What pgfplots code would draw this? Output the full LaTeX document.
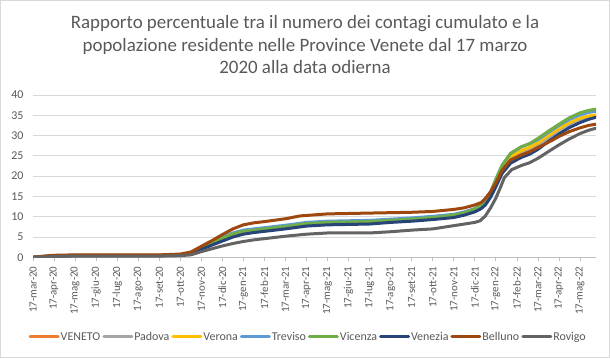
\documentclass[border=0pt]{standalone}
\usepackage{fontspec}
\setmainfont{Carlito}
\usepackage{pgfplots}
\pgfplotsset{compat=1.18}
\definecolor{txtgray}{HTML}{595959}
\definecolor{gridgray}{HTML}{D9D9D9}
\definecolor{framegray}{HTML}{D9D9D9}
\definecolor{axisgray}{HTML}{BFBFBF}
\definecolor{cVeneto}{HTML}{ED7D31}
\definecolor{cPadova}{HTML}{A5A5A5}
\definecolor{cVerona}{HTML}{FFC000}
\definecolor{cTreviso}{HTML}{5B9BD5}
\definecolor{cVicenza}{HTML}{70AD47}
\definecolor{cVenezia}{HTML}{264478}
\definecolor{cBelluno}{HTML}{9E480E}
\definecolor{cRovigo}{HTML}{636363}
\begin{document}
\begin{tikzpicture}[x=1bp,y=1bp]
\draw[framegray, line width=1bp] (0.5,0.5) rectangle (609.5,357.5);
\node[anchor=base, text=txtgray, font=\fontsize{19}{22}\selectfont] at (305,329.5) {Rapporto percentuale tra il numero dei contagi cumulato e la};
\node[anchor=base, text=txtgray, font=\fontsize{19}{22}\selectfont] at (305,306.5) {popolazione residente nelle Province Venete dal 17 marzo};
\node[anchor=base, text=txtgray, font=\fontsize{19}{22}\selectfont] at (305,284.5) {2020 alla data odierna};
\begin{axis}[
  at={(33bp,100.7bp)}, anchor=south west,
  scale only axis, width=563bp, height=162.3bp,
  xmin=0, xmax=26.76, ymin=0, ymax=40,
  ytick={0,5,...,40},
  xtick={0,...,26},
  xticklabels={17-mar-20,17-apr-20,17-mag-20,17-giu-20,17-lug-20,17-ago-20,17-set-20,17-ott-20,17-nov-20,17-dic-20,17-gen-21,17-feb-21,17-mar-21,17-apr-21,17-mag-21,17-giu-21,17-lug-21,17-ago-21,17-set-21,17-ott-21,17-nov-21,17-dic-21,17-gen-22,17-feb-22,17-mar-22,17-apr-22,17-mag-22},
  /pgf/number format/assume math mode=true,
  ymajorgrids, grid style={draw=gridgray, line width=0.75bp},
  axis x line*=bottom, axis y line*=left,
  y axis line style={draw=none},
  x axis line style={draw=axisgray, line width=0.75bp, -},
  ytick style={draw=none},
  xtick style={draw=axisgray, line width=0.75bp},
  xtick align=outside, major tick length=4bp,
  tick label style={font=\fontsize{12}{14}\selectfont, text=txtgray},
  x tick label style={rotate=90, anchor=east, inner ysep=2bp, inner xsep=5bp, font=\fontsize{11}{13}\selectfont},
  y tick label style={xshift=-6bp},
  legend columns=-1,
  legend style={at={(0.488,-0.491)}, anchor=center, draw=none, fill=none,
    font=\fontsize{12}{14}\selectfont, text=txtgray,
    nodes={inner sep=1bp},
    /tikz/every even column/.append style={column sep=1bp}},
  legend image code/.code={\draw[#1] (0bp,0bp) -- (28bp,0bp);},
  every axis plot/.append style={line width=3bp, line join=round, line cap=round},
]
\addplot[cVeneto] coordinates {(0,0) (1,0.35) (2,0.45) (6,0.45) (7,0.55) (7.5,1.0) (8,2.1) (8.5,3.3) (9,4.4) (9.5,5.5) (10,6.1) (10.5,6.4) (11,6.7) (12,7.3) (13,8.0) (14,8.3) (15,8.4) (16,8.5) (17,8.9) (18,9.2) (19,9.6) (20,10.1) (20.5,10.7) (21,11.5) (21.3,12.4) (21.5,13.3) (21.75,15.4) (22,18.2) (22.3,21.4) (22.7,24.2) (23.2,25.9) (23.6,26.7) (24,27.8) (24.5,29.7) (25,31.5) (25.5,33.0) (26,34.1) (26.4,34.6) (26.75,34.9)};
\addlegendentry{VENETO}
\addplot[cPadova] coordinates {(0,0) (1,0.3) (2,0.4) (6,0.4) (7,0.5) (7.5,0.95) (8,2.0) (8.5,3.2) (9,4.3) (9.5,5.4) (10,6.0) (10.5,6.3) (11,6.6) (12,7.2) (13,7.9) (14,8.2) (15,8.3) (16,8.4) (17,8.8) (18,9.1) (19,9.5) (20,10.0) (20.5,10.6) (21,11.4) (21.3,12.3) (21.5,13.2) (21.75,15.3) (22,18.1) (22.3,21.3) (22.7,24.1) (23.2,25.8) (23.6,26.6) (24,27.7) (24.5,29.6) (25,31.4) (25.5,32.9) (26,34.0) (26.4,34.5) (26.75,34.8)};
\addlegendentry{Padova}
\addplot[cVerona] coordinates {(0,0) (1,0.35) (2,0.45) (6,0.45) (7,0.55) (7.5,1.0) (8,2.1) (8.5,3.3) (9,4.5) (9.5,5.6) (10,6.2) (10.5,6.5) (11,6.8) (12,7.4) (13,8.1) (14,8.4) (15,8.5) (16,8.6) (17,9.0) (18,9.3) (19,9.7) (20,10.2) (20.5,10.8) (21,11.6) (21.3,12.5) (21.5,13.5) (21.75,15.6) (22,18.5) (22.3,21.8) (22.7,24.7) (23.2,26.3) (23.6,27.1) (24,28.2) (24.5,30.0) (25,31.7) (25.5,33.2) (26,34.3) (26.4,34.8) (26.75,35.1)};
\addlegendentry{Verona}
\addplot[cTreviso] coordinates {(0,0) (1,0.4) (2,0.5) (6,0.5) (7,0.6) (7.5,1.1) (8,2.3) (8.5,3.6) (9,4.9) (9.5,6.0) (10,6.7) (10.5,7.0) (11,7.3) (12,7.9) (13,8.6) (14,8.9) (15,9.0) (16,9.1) (17,9.4) (18,9.7) (19,10.1) (20,10.6) (20.5,11.2) (21,12.0) (21.3,12.9) (21.5,13.9) (21.75,16.1) (22,19.2) (22.3,22.7) (22.7,25.6) (23.2,27.2) (23.6,28.0) (24,29.0) (24.5,30.8) (25,32.5) (25.5,34.0) (26,35.1) (26.4,35.7) (26.75,36.0)};
\addlegendentry{Treviso}
\addplot[cVicenza] coordinates {(0,0) (1,0.3) (2,0.45) (6,0.45) (7,0.55) (7.5,1.0) (8,2.2) (8.5,3.5) (9,4.7) (9.5,5.8) (10,6.4) (10.5,6.7) (11,7.0) (12,7.6) (13,8.3) (14,8.6) (15,8.7) (16,8.8) (17,9.1) (18,9.4) (19,9.8) (20,10.4) (20.5,11.0) (21,11.9) (21.3,12.8) (21.5,13.8) (21.75,16.0) (22,19.2) (22.3,22.7) (22.7,25.6) (23.2,27.2) (23.6,28.0) (24,29.3) (24.5,31.1) (25,32.8) (25.5,34.4) (26,35.6) (26.4,36.2) (26.75,36.5)};
\addlegendentry{Vicenza}
\addplot[cVenezia] coordinates {(0,0) (1,0.3) (2,0.4) (6,0.4) (7,0.5) (7.5,0.9) (8,1.9) (8.5,3.0) (9,4.0) (9.5,5.0) (10,5.7) (10.5,6.1) (11,6.4) (12,7.0) (13,7.7) (14,8.0) (15,8.1) (16,8.2) (17,8.6) (18,8.9) (19,9.3) (20,9.8) (20.5,10.4) (21,11.2) (21.3,12.0) (21.5,12.9) (21.75,14.8) (22,17.4) (22.3,20.7) (22.7,23.2) (23.2,24.6) (23.6,25.4) (24,26.6) (24.5,28.6) (25,30.4) (25.5,32.0) (26,33.2) (26.4,34.0) (26.75,34.5)};
\addlegendentry{Venezia}
\addplot[cBelluno] coordinates {(0,0) (0.5,0.3) (1,0.5) (2,0.6) (4,0.6) (6,0.6) (7,0.8) (7.5,1.3) (8,2.7) (8.5,4.1) (9,5.6) (9.5,7.0) (10,8.0) (10.5,8.5) (11,8.8) (12,9.5) (12.7,10.2) (14,10.7) (15,10.8) (16,10.9) (17,11.0) (18,11.1) (19,11.3) (20,11.8) (20.5,12.2) (21,12.9) (21.3,13.5) (21.5,14.5) (21.75,16.2) (22,18.4) (22.3,21.5) (22.7,24.0) (23.2,25.2) (23.6,26.0) (24.25,27.7) (24.7,28.9) (25,29.8) (25.5,31.0) (26,31.9) (26.4,32.5) (26.75,32.8)};
\addlegendentry{Belluno}
\addplot[cRovigo] coordinates {(0,0) (1,0.2) (2,0.3) (6,0.3) (7,0.4) (7.5,0.6) (8,1.4) (8.5,2.1) (9,2.8) (9.5,3.4) (10,3.9) (10.5,4.3) (11,4.6) (12,5.2) (13,5.7) (14,6.0) (15,6.0) (16,6.0) (17,6.3) (18,6.7) (19,7.0) (20,7.8) (20.5,8.2) (21,8.6) (21.25,9.0) (21.5,10.2) (21.75,12.2) (22,14.6) (22.2,17.0) (22.4,19.6) (22.75,21.6) (23.2,22.6) (23.6,23.3) (24,24.4) (24.6,26.4) (25,27.7) (25.5,29.2) (26,30.5) (26.4,31.3) (26.75,31.8)};
\addlegendentry{Rovigo}
\end{axis}
\end{tikzpicture}
\end{document}
